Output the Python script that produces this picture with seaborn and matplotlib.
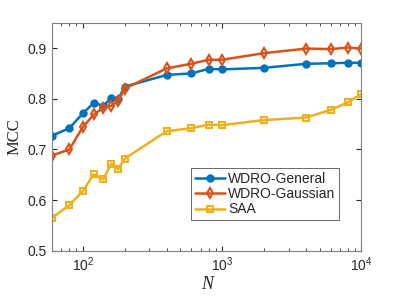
import matplotlib
matplotlib.use("Agg")
import matplotlib.pyplot as plt
import seaborn as sns
import pandas as pd

N = [60, 80, 100, 120, 140, 160, 180, 200, 400, 600, 800, 1000, 2000, 4000, 6000, 8000, 10000]
wdro_general = [0.727, 0.742, 0.771, 0.792, 0.786, 0.801, 0.800, 0.824, 0.847, 0.850, 0.859,
                0.858, 0.861, 0.869, 0.870, 0.871, 0.871]
wdro_gaussian = [0.688, 0.700, 0.744, 0.769, 0.782, 0.786, 0.796, 0.820, 0.860, 0.869, 0.877,
                 0.877, 0.890, 0.899, 0.898, 0.901, 0.899]
saa = [0.565, 0.590, 0.618, 0.651, 0.641, 0.672, 0.661, 0.682, 0.736, 0.742, 0.749,
       0.748, 0.758, 0.763, 0.778, 0.793, 0.810]

sns.set_style("ticks")
plt.rcParams["font.family"] = ["Liberation Sans", "DejaVu Sans"]
plt.rcParams["mathtext.fontset"] = "custom"
plt.rcParams["mathtext.rm"] = "Liberation Sans"
plt.rcParams["mathtext.it"] = "Liberation Sans:italic"
plt.rcParams["xtick.direction"] = "in"
plt.rcParams["ytick.direction"] = "in"

fig = plt.figure(figsize=(3.99, 2.99), dpi=100)
ax = fig.add_axes([0.130, 0.161, 0.776, 0.763])

series = [
    ("WDRO-General", wdro_general, "#0072BD", "o", "#0072BD", 4.5),
    ("WDRO-Gaussian", wdro_gaussian, "#D95319", "d", "none", 5.5),
    ("SAA", saa, "#EDB120", "s", "none", 4.5),
]
for name, vals, col, mk, face, ms in series:
    df = pd.DataFrame({"N": N, "MCC": vals})
    sns.lineplot(data=df, x="N", y="MCC", ax=ax, color=col, linewidth=1.8,
                 marker=mk, markersize=ms, markerfacecolor=face,
                 markeredgecolor=col, markeredgewidth=1.5, label=name)

ax.set_xscale("log")
ax.set_xlim(60, 10000)
ax.set_ylim(0.5, 0.95)
ax.set_yticks([0.5, 0.6, 0.7, 0.8, 0.9])
ax.set_yticklabels(["0.5", "0.6", "0.7", "0.8", "0.9"])
ax.tick_params(axis="both", which="both", top=True, right=True, labelsize=10,
               color="#262626", labelcolor="#262626")
ax.tick_params(which="major", length=3.5)
ax.tick_params(which="minor", length=2)
for sp in ax.spines.values():
    sp.set_visible(True)
    sp.set_color("#808080")
    sp.set_linewidth(0.8)

ax.set_xlabel("N", family="Liberation Serif", style="italic", fontsize=13, labelpad=1)
ax.set_ylabel("MCC", family="Liberation Serif", fontsize=12, labelpad=4)

leg = ax.legend(loc="lower right", bbox_to_anchor=(0.927, 0.136), fontsize=10,
                frameon=True, fancybox=False, edgecolor="#262626",
                handlelength=2.2, handletextpad=0.2, borderpad=0.25, labelspacing=0.1,
                borderaxespad=0)
leg.get_frame().set_linewidth(0.6)

fig.savefig("out.png", dpi=100)
